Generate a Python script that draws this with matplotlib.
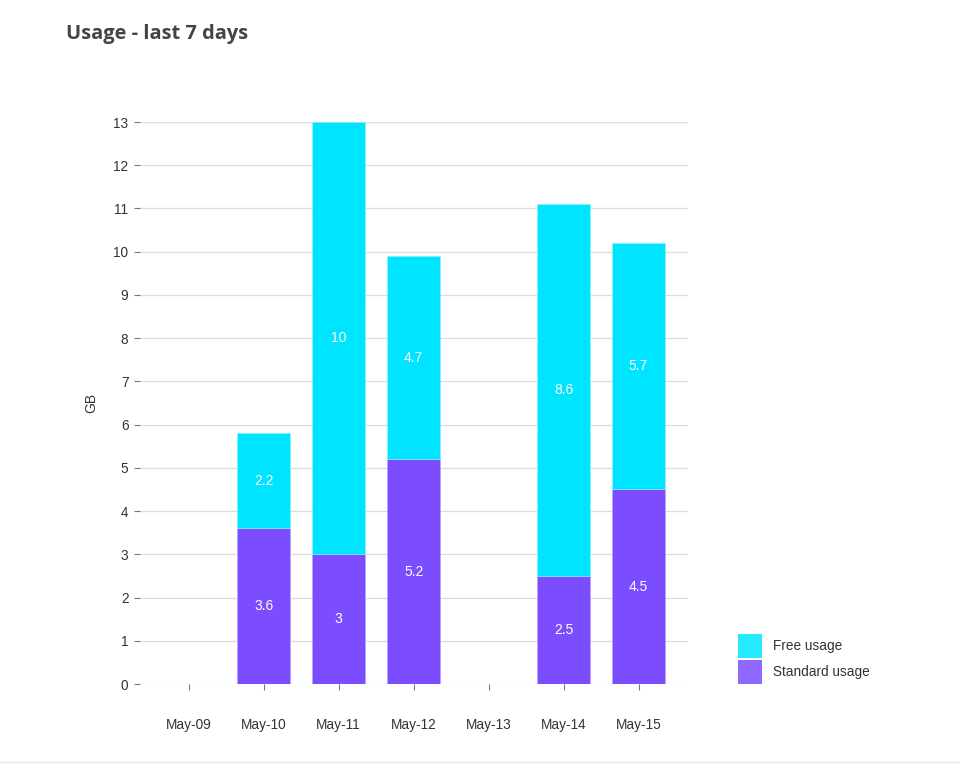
import matplotlib.pyplot as plt
from matplotlib.patches import Patch
from matplotlib.lines import Line2D

days = ["May-09", "May-10", "May-11", "May-12", "May-13", "May-14", "May-15"]
standard_usage = [0, 3.6, 3, 5.2, 0, 2.5, 4.5]
free_usage = [0, 2.2, 10, 4.7, 0, 8.6, 5.7]
y_ticks = list(range(0, 14))

FREE_COLOR = "#00E5FF"
STANDARD_COLOR = "#7C4DFF"


def draw_segment_labels(ax, bars, values, bottoms):
    for bar, value, bottom in zip(bars, values, bottoms):
        if value == 0:
            continue
        ax.text(bar.get_x() + bar.get_width() / 2, bottom + value / 2,
                f"{value:g}", color="white", ha="center", va="center",
                fontsize=10, family="Liberation Sans")


def show_usage_chart():
    plt.rcParams['font.family'] = ['Liberation Sans', 'DejaVu Sans']
    fig = plt.figure(figsize=(9.6, 7.66), dpi=100)
    ax = fig.add_axes([140 / 960, 1 - 684 / 766, 548 / 960, 562 / 766])

    x = list(range(len(days)))
    std_bars = ax.bar(x, standard_usage, width=0.7, color=STANDARD_COLOR,
                      edgecolor="#b9a3ff", linewidth=0.4, zorder=3)
    free_bars = ax.bar(x, free_usage, width=0.7, bottom=standard_usage,
                       color=FREE_COLOR, edgecolor="#8ff2ff", linewidth=0.4,
                       zorder=3)

    draw_segment_labels(ax, std_bars, standard_usage, [0] * len(days))
    draw_segment_labels(ax, free_bars, free_usage, standard_usage)

    ax.set_xlim(-0.65, 6.66)
    ax.set_ylim(0, 13)
    ax.set_yticks(y_ticks)
    ax.set_xticks(x)
    ax.set_xticklabels(days)

    for side in ["top", "right", "left", "bottom"]:
        ax.spines[side].set_visible(False)
    ax.yaxis.grid(True, color="#dddddd", linewidth=0.9, zorder=0)
    ax.set_axisbelow(True)

    ax.tick_params(axis="y", length=4.3, width=0.8, color="#777777",
                   pad=4, labelsize=9.8, labelcolor="#333333")
    ax.tick_params(axis="x", length=4.3, width=0.8, color="#777777",
                   pad=20.5, labelsize=9.8, labelcolor="#333333")

    ax.set_ylabel("GB", fontsize=10, color="#333333", labelpad=11)

    fig.text(66 / 960, 1 - 34 / 766, "Usage - last 7 days", family="Open Sans",
             fontweight="bold", fontsize=14.4, color="#444444",
             ha="left", va="center")

    handles = [Patch(facecolor=FREE_COLOR, alpha=0.85, linewidth=0),
               Patch(facecolor=STANDARD_COLOR, alpha=0.85, linewidth=0)]
    fig.legend(handles, ["Free usage", "Standard usage"], loc="lower left",
               bbox_to_anchor=(738 / 960, 1 - 684 / 766), frameon=False,
               fontsize=9.8, handlelength=1.75, handleheight=2.28,
               labelspacing=0.2, borderpad=0, borderaxespad=0,
               handletextpad=0.8, labelcolor="#333333")

    fig.add_artist(Line2D([0, 1], [1 - 762 / 766] * 2, color="#e6e6e6",
                          linewidth=1, transform=fig.transFigure))

    fig.savefig("out.png", dpi=100)


if __name__ == "__main__":
    show_usage_chart()
